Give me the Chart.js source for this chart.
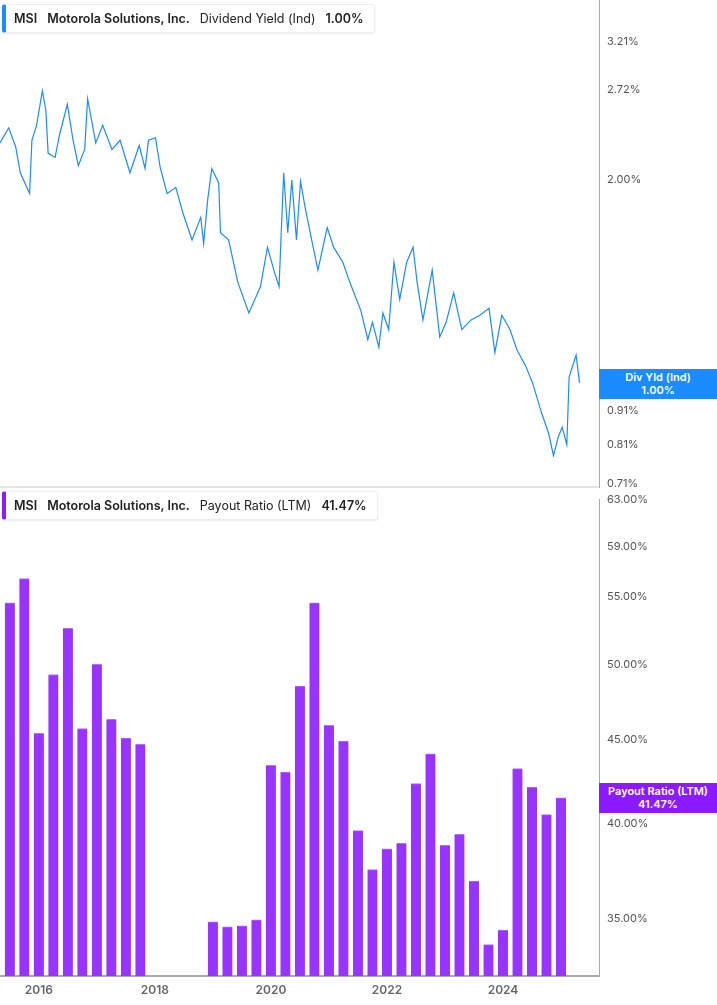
<!DOCTYPE html>
<html><head><meta charset="utf-8">
<script src="https://cdn.jsdelivr.net/npm/chart.js@4/dist/chart.umd.min.js"></script>
<style>
body{margin:0;width:717px;height:1005px;background:#fff;font-family:Inter,"Noto Sans",sans-serif;overflow:hidden;position:relative}
#c1{position:absolute;left:0;top:-11px}
#c2{position:absolute;left:0;top:488px}
.leg{position:absolute;left:2px;height:27px;background:#fff;border:1px solid #eee;border-left:4px solid;border-radius:3px;font-size:12.5px;line-height:27px;padding:0 10px 0 8px;color:#222;box-shadow:0 1px 2px rgba(0,0,0,.08);z-index:2}
.leg b{font-weight:600;margin-right:10px}
.tag{position:absolute;left:599px;width:118px;color:#fff;font-size:11px;font-weight:600;text-align:center;line-height:13px;padding:2px 0;z-index:2}
#div{position:absolute;left:0;top:486px;width:599px;height:2px;background:#e4e4e4;z-index:1}
</style></head><body>
<canvas id="c1" width="717" height="510"></canvas>
<canvas id="c2" width="717" height="517"></canvas>
<div id="div"></div>
<div class="leg" style="top:4px;border-left-color:#1a8cff"><b>MSI</b><b>Motorola Solutions, Inc.</b><span style="margin-right:10px">Dividend Yield (Ind)</span><b style="margin:0">1.00%</b></div>
<div class="leg" style="top:491px;border-left-color:#8c1aff"><b>MSI</b><b>Motorola Solutions, Inc.</b><span style="margin-right:10px">Payout Ratio (LTM)</span><b style="margin:0">41.47%</b></div>
<div class="tag" style="top:369px;background:#1a8cff">Div Yld (Ind)<br>1.00%</div>
<div class="tag" style="top:783px;background:#8c1aff">Payout Ratio (LTM)<br>41.47%</div>
<script>
const yieldDates=[2015.33,2015.48,2015.60,2015.68,2015.84,2015.88,2015.96,2016.06,2016.12,2016.16,2016.28,2016.35,2016.49,2016.59,2016.68,2016.79,2016.84,2016.98,2017.10,2017.26,2017.40,2017.57,2017.73,2017.83,2017.89,2018.01,2018.09,2018.21,2018.36,2018.48,2018.64,2018.79,2018.84,2018.91,2018.98,2019.10,2019.13,2019.27,2019.43,2019.62,2019.82,2019.94,2020.06,2020.14,2020.22,2020.29,2020.36,2020.44,2020.51,2020.59,2020.69,2020.81,2020.97,2021.08,2021.24,2021.36,2021.55,2021.67,2021.75,2021.86,2021.93,2022.03,2022.12,2022.22,2022.34,2022.45,2022.52,2022.62,2022.78,2022.91,2023.02,2023.15,2023.29,2023.45,2023.60,2023.76,2023.86,2023.98,2024.12,2024.24,2024.39,2024.51,2024.67,2024.79,2024.87,2024.95,2025.02,2025.10,2025.14,2025.26,2025.32];
const yieldValues=[2.27,2.39,2.24,2.05,1.91,2.29,2.41,2.71,2.54,2.19,2.16,2.32,2.59,2.29,2.10,2.22,2.64,2.27,2.41,2.22,2.29,2.05,2.25,2.08,2.29,2.31,2.09,1.91,1.95,1.79,1.63,1.76,1.61,1.87,2.08,1.98,1.67,1.63,1.41,1.27,1.39,1.59,1.46,1.39,2.05,1.67,2.00,1.63,1.99,1.82,1.65,1.47,1.70,1.59,1.51,1.41,1.28,1.16,1.23,1.13,1.27,1.20,1.51,1.33,1.51,1.59,1.41,1.24,1.47,1.17,1.23,1.36,1.20,1.24,1.26,1.29,1.11,1.26,1.20,1.12,1.06,1.00,0.90,0.84,0.78,0.83,0.86,0.81,1.02,1.10,1.00];
const payoutDates=[2015.5,2015.75,2016.0,2016.25,2016.5,2016.75,2017.0,2017.25,2017.5,2017.75,2019.0,2019.25,2019.5,2019.75,2020.0,2020.25,2020.5,2020.75,2021.0,2021.25,2021.5,2021.75,2022.0,2022.25,2022.5,2022.75,2023.0,2023.25,2023.5,2023.75,2024.0,2024.25,2024.5,2024.75,2025.0];
const payoutValues=[54.5,56.4,45.4,49.3,52.6,45.7,50.0,46.3,45.1,44.7,34.85,34.6,34.65,34.95,43.4,43.0,48.5,54.5,45.9,44.9,39.6,37.5,38.6,38.9,42.3,44.1,38.8,39.4,36.9,33.75,34.45,43.2,42.1,40.5,41.47];
const yieldTicks=[0.71,0.81,0.91,1.00,2.00,2.72,3.21];
const payoutTicks=[35,40,45,50,55,59,63];
const yearTicks=[2016,2018,2020,2022,2024];

const xMin=2015.33,xMax=2025.655;
const tickFont={family:'Inter',size:11};
function yAxis(min,max,ticks){return{type:'logarithmic',position:'right',min,max,
  afterBuildTicks:s=>{s.ticks=ticks.map(v=>({value:v}))},
  afterFit:s=>{s.width=118},
  grid:{display:false,drawTicks:true,tickLength:3,tickColor:'#999'},
  border:{color:'#aaa',width:1},
  ticks:{color:'#555',font:tickFont,padding:5,callback:v=>v.toFixed(2)+'%'}}}

new Chart(document.getElementById('c1'),{type:'line',
 data:{datasets:[{data:yieldDates.map((d,i)=>({x:d,y:yieldValues[i]})),borderColor:'#1a8cff',borderWidth:1.2,pointRadius:0,tension:0}]},
 options:{responsive:false,animation:false,layout:{padding:0},
  plugins:{legend:{display:false},tooltip:{enabled:false}},
  scales:{x:{type:'linear',min:xMin,max:xMax,display:false},
   y:yAxis(0.70,3.69,yieldTicks)}}});

new Chart(document.getElementById('c2'),{type:'bar',
 data:{datasets:[{data:payoutDates.map((d,i)=>({x:d,y:payoutValues[i]})),backgroundColor:'#9933ff',borderColor:'#b56cff',borderWidth:{top:1,left:0,right:0,bottom:0},barThickness:10}]},
 options:{responsive:false,animation:false,layout:{padding:{top:10}},
  plugins:{legend:{display:false},tooltip:{enabled:false}},
  scales:{x:{type:'linear',min:xMin,max:xMax,offset:false,
    afterBuildTicks:s=>{s.ticks=yearTicks.map(v=>({value:v}))},
    afterFit:s=>{s.height=29},
    grid:{display:false,drawTicks:true,tickLength:4,tickColor:'#999'},
    border:{color:'#aaa',width:2},
    ticks:{color:'#666',font:{family:'Inter',size:12,weight:'600'},padding:3,callback:v=>String(v)}},
   y:yAxis(32.3,63,payoutTicks)}}});
</script>
</body></html>
